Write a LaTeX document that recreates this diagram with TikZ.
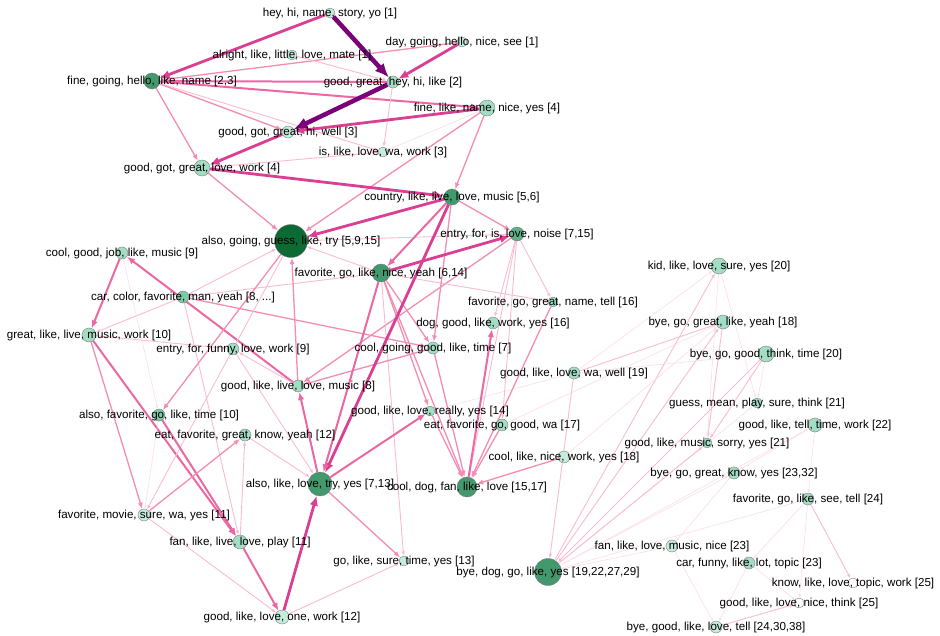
\documentclass[tikz,border=0pt]{standalone}
\usepackage{fontspec}
\setmainfont{Liberation Sans}
\usetikzlibrary{arrows.meta}
\pgfdeclarelayer{background}
\pgfsetlayers{background,main}
\definecolor{cpale}{HTML}{C6ECDB}
\definecolor{cmint}{HTML}{A3DEC4}
\definecolor{cmint2}{HTML}{7CCBA6}
\definecolor{cmedl}{HTML}{5DB088}
\definecolor{cmed}{HTML}{42996E}
\definecolor{cdark}{HTML}{0C6A35}
\definecolor{ew1}{HTML}{FCDDE6}
\definecolor{ew2}{HTML}{F9BCD1}
\definecolor{ew3}{HTML}{F38DB4}
\definecolor{ew4}{HTML}{EC68A2}
\definecolor{ew5}{HTML}{DA3F93}
\definecolor{ew6}{HTML}{7A0177}
\tikzset{
  nd/.style={circle,draw=black!55,line width=0.35pt,inner sep=0pt},
  lbl/.style={inner sep=0pt,font=\fontsize{11.6}{13}\selectfont,text=black},
  w1/.style={draw=ew1,line width=0.6pt,-{Latex[length=3.5pt,width=2.5pt]}},
  w2/.style={draw=ew2,line width=0.9pt,-{Latex[length=4.5pt,width=3.5pt]}},
  w3/.style={draw=ew3,line width=1.3pt,-{Latex[length=6.5pt,width=5pt]}},
  w4/.style={draw=ew4,line width=2pt,-{Latex[length=8pt,width=6.5pt]}},
  w5/.style={draw=ew5,line width=2.8pt,-{Latex[length=10pt,width=8.5pt]}},
  w6/.style={draw=ew6,line width=4.5pt,-{Latex[length=14pt,width=12pt]}}
}
\begin{document}
\begin{tikzpicture}[x=1pt,y=-1pt]
\useasboundingbox (0,0) rectangle (940,635);
% circles
\node[nd,fill=cpale,minimum size=10pt] (n1) at (330,13) {};
\node[nd,fill=cpale,minimum size=10pt] (day) at (462,42) {};
\node[nd,fill=cpale,minimum size=10pt] (alr) at (292,55) {};
\node[nd,fill=cmed,minimum size=16pt] (fine) at (152,81) {};
\node[nd,fill=cmint,minimum size=12pt] (gg) at (393,82) {};
\node[nd,fill=cmint,minimum size=16pt] (fl) at (487,108) {};
\node[nd,fill=cpale,minimum size=12pt] (gg3) at (288,132) {};
\node[nd,fill=cpale,minimum size=10pt] (isl) at (383,152) {};
\node[nd,fill=cmint,minimum size=16pt] (gg4) at (202,168) {};
\node[nd,fill=cmed,minimum size=16pt] (ctry) at (452,197) {};
\node[nd,fill=cdark,minimum size=33pt] (also) at (291,241) {};
\node[nd,fill=cmedl,minimum size=14pt] (ent715) at (517,234) {};
\node[nd,fill=cmed,minimum size=18pt] (fav614) at (381,273) {};
\node[nd,fill=cmint,minimum size=12pt] (cool9) at (122,253) {};
\node[nd,fill=cmint2,minimum size=12pt] (car) at (183,297) {};
\node[nd,fill=cmint,minimum size=10pt] (fav16) at (553,302) {};
\node[nd,fill=cmint,minimum size=12pt] (dog16) at (493,323) {};
\node[nd,fill=cmint,minimum size=14pt] (gr10) at (89,335) {};
\node[nd,fill=cmint,minimum size=12pt] (ent9) at (233,349) {};
\node[nd,fill=cmint,minimum size=12pt] (cool7) at (433,348) {};
\node[nd,fill=cmint,minimum size=12pt] (good8) at (298,386) {};
\node[nd,fill=cmint,minimum size=12pt] (good19) at (574,373) {};
\node[nd,fill=cmint2,minimum size=12pt] (also10) at (159,415) {};
\node[nd,fill=cmint,minimum size=10pt] (good14) at (430,411) {};
\node[nd,fill=cmint,minimum size=12pt] (eat12) at (245,435) {};
\node[nd,fill=cmint,minimum size=12pt] (eat17) at (502,425) {};
\node[nd,fill=cmed,minimum size=24pt] (a713) at (320,484) {};
\node[nd,fill=cpale,minimum size=12pt] (cool18) at (564,457) {};
\node[nd,fill=cmed,minimum size=20pt] (cdog) at (467,487) {};
\node[nd,fill=cpale,minimum size=12pt] (fav11) at (144,515) {};
\node[nd,fill=cmint,minimum size=14pt] (fan11) at (240,542) {};
\node[nd,fill=cpale,minimum size=10pt] (go13) at (404,561) {};
\node[nd,fill=cpale,minimum size=14pt] (good12) at (282,617) {};
\node[nd,fill=cmed,minimum size=27pt] (bye19) at (548,572) {};
\node[nd,fill=cmint,minimum size=16pt] (kid) at (719,266) {};
\node[nd,fill=cmint,minimum size=14pt] (bye18) at (723,322) {};
\node[nd,fill=cmint,minimum size=16pt] (bye20) at (766,354) {};
\node[nd,fill=cmint,minimum size=10pt] (guess) at (757,403) {};
\node[nd,fill=cmint,minimum size=14pt] (good22) at (815,425) {};
\node[nd,fill=cmint,minimum size=10pt] (good21) at (707,443) {};
\node[nd,fill=cmint,minimum size=12pt] (bye23) at (734,473) {};
\node[nd,fill=cmint,minimum size=12pt] (fav24) at (808,499) {};
\node[nd,fill=cpale,minimum size=12pt] (fan23) at (672,546) {};
\node[nd,fill=cmint,minimum size=12pt] (car23) at (749,563) {};
\node[nd,fill=white,minimum size=10pt] (know) at (853,583) {};
\node[nd,fill=white,minimum size=10pt] (good25) at (799,603) {};
\node[nd,fill=cpale,minimum size=12pt] (bye24) at (716,627) {};
% edges
\begin{pgfonlayer}{background}
\fill[white] (0,0) rectangle (940,635);
% right cluster (thin)
\draw[w1] (bye19) -- (good22);
\draw[w1] (bye19) -- (bye23);
\draw[w1] (bye19) -- (fan23);
\draw[w1] (bye19) -- (guess);
\draw[w1] (bye19) -- (fav24);
\draw[w2] (bye19) -- (kid);
\draw[w2] (bye19) -- (bye18);
\draw[w2] (bye20) -- (bye19);
\draw[w2] (bye19) -- (good21);
\draw[w2] (good19) -- (bye18);
\draw[w1] (good19) -- (kid);
\draw[w1] (good19) -- (bye20);
\draw[w2] (bye18) -- (good21);
\draw[w1] (kid) -- (good21);
\draw[w1] (kid) -- (guess);
\draw[w2] (bye20) -- (good21);
\draw[w1] (bye20) -- (guess);
\draw[w1] (good22) -- (bye23);
\draw[w1] (good22) -- (fav24);
\draw[w2] (fav24) -- (know);
\draw[w1] (fav24) -- (good25);
\draw[w1] (fav24) -- (car23);
\draw[w2] (bye24) -- (good25);
\draw[w1] (fan23) -- (bye24);
\draw[w1] (car23) -- (bye24);
\draw[w1] (car23) -- (good25);
\draw[w1] (bye23) -- (fan23);
\draw[w1] (cool18) -- (bye18);
\draw[w1] (eat17) -- (bye18);
\draw[w2] (good19) -- (bye19);
\draw[w1] (good19) -- (good14);
% middle
\draw[w2] (ent715) -- (also);
\draw[w2] (fav614) -- (also);
\draw[w2] (ent715) -- (fav16);
\draw[w2] (ent715) -- (dog16);
\draw[w2] (ent715) -- (eat17);
\draw[w2] (ent715) -- (cdog);
\draw[w3] (ent715) -- (good8);
\draw[w3] (fav614) -- (cool7);
\draw[w3] (fav614) -- (good14);
\draw[w3] (fav614) -- (cdog);
\draw[w2] (fav614) -- (car);
\draw[w2] (fav614) -- (fav16);
\draw[w2] (fav614) -- (go13);
\draw[w3] (fav16) -- (cdog);
\draw[w4] (cdog) -- (dog16);
\draw[w3] (cool18) -- (cdog);
\draw[w3] (eat17) -- (cdog);
\draw[w3] (good14) -- (cdog);
\draw[w3] (cool7) -- (cdog);
\draw[w3] (cool7) -- (good8);
\draw[w2] (car) -- (also);
\draw[w2] (car) -- (gr10);
\draw[w3] (car) -- (cool7);
\draw[w2] (car) -- (fan11);
\draw[w4] (good8) -- (cool9);
\draw[w4] (cool9) -- (gr10);
\draw[w1] (cool9) -- (also10);
\draw[w2] (gr10) -- (ent9);
\draw[w4] (gr10) -- (fan11);
\draw[w3] (gr10) -- (fav11);
\draw[w3] (also) -- (also10);
\draw[w2] (also) -- (fav11);
\draw[w3] (good8) -- (also);
\draw[w2] (good8) -- (ent9);
\draw[w4] (also10) -- (fan11);
\draw[w1] (also10) -- (fav11);
\draw[w3] (fav11) -- (eat12);
\draw[w2] (fav11) -- (good12);
\draw[w2] (fan11) -- (eat12);
\draw[w4] (fan11) -- (good12);
\draw[w5] (good12) -- (a713);
\draw[w2] (good12) -- (go13);
\draw[w3] (a713) -- (go13);
\draw[w4] (a713) -- (good8);
\draw[w4] (a713) -- (good14);
\draw[w2] (eat12) -- (a713);
\draw[w2] (ent9) -- (a713);
% top
\draw[w3] (day) -- (fine);
\draw[w2] (alr) -- (gg);
\draw[w4] (gg) -- (fine);
\draw[w4] (fine) -- (fl);
\draw[w3] (fine) -- (gg3);
\draw[w2] (fine) -- (isl);
\draw[w3] (fine) -- (gg4);
\draw[w2] (gg) -- (isl);
\draw[w5] (fl) -- (gg3);
\draw[w1] (fl) -- (isl);
\draw[w3] (fl) -- (ctry);
\draw[w3] (fl) -- (also);
\draw[w5] (gg3) -- (gg4);
\draw[w2] (isl) -- (gg4);
\draw[w5] (gg4) -- (ctry);
\draw[w3] (gg4) -- (also);
\draw[w5] (ctry) -- (also);
\draw[w4] (ctry) -- (fav614);
\draw[w3] (ctry) -- (ent715);
\draw[w3] (ctry) -- (cool7);
\draw[w5] (ctry) -- (a713);
\draw[w4] (fav614) -- (a713);
\draw[w5] (fav614) -- (ent715);
\draw[w5] (n1) -- (fine);
\draw[w5] (day) -- (gg);
\draw[w6] (n1) -- (gg);
\draw[w6] (gg) -- (gg3);
\end{pgfonlayer}
% labels
\node[lbl] (l-n1) at (n1) {hey, hi, name, story, yo [1]};
\node[lbl] (l-day) at (day) {day, going, hello, nice, see [1]};
\node[lbl] (l-alr) at (alr) {alright, like, little, love, mate [1]};
\node[lbl] (l-fine) at (fine) {fine, going, hello, like, name [2,3]};
\node[lbl] (l-gg) at (gg) {good, great, hey, hi, like [2]};
\node[lbl] (l-fl) at (fl) {fine, like, name, nice, yes [4]};
\node[lbl] (l-gg3) at (gg3) {good, got, great, hi, well [3]};
\node[lbl] (l-isl) at (isl) {is, like, love, wa, work [3]};
\node[lbl] (l-gg4) at (gg4) {good, got, great, love, work [4]};
\node[lbl] (l-ctry) at (ctry) {country, like, live, love, music [5,6]};
\node[lbl] (l-also) at (also) {also, going, guess, like, try [5,9,15]};
\node[lbl] (l-ent715) at (ent715) {entry, for, is, love, noise [7,15]};
\node[lbl] (l-fav614) at (fav614) {favorite, go, like, nice, yeah [6,14]};
\node[lbl] (l-cool9) at (cool9) {cool, good, job, like, music [9]};
\node[lbl] (l-car) at (car) {car, color, favorite, man, yeah [8, ...]};
\node[lbl] (l-fav16) at (fav16) {favorite, go, great, name, tell [16]};
\node[lbl] (l-dog16) at (dog16) {dog, good, like, work, yes [16]};
\node[lbl] (l-gr10) at (gr10) {great, like, live, music, work [10]};
\node[lbl] (l-ent9) at (ent9) {entry, for, funny, love, work [9]};
\node[lbl] (l-cool7) at (cool7) {cool, going, good, like, time [7]};
\node[lbl] (l-good8) at (good8) {good, like, live, love, music [8]};
\node[lbl] (l-good19) at (good19) {good, like, love, wa, well [19]};
\node[lbl] (l-also10) at (also10) {also, favorite, go, like, time [10]};
\node[lbl] (l-good14) at (good14) {good, like, love, really, yes [14]};
\node[lbl] (l-eat12) at (eat12) {eat, favorite, great, know, yeah [12]};
\node[lbl] (l-eat17) at (eat17) {eat, favorite, go, good, wa [17]};
\node[lbl] (l-a713) at (a713) {also, like, love, try, yes [7,13]};
\node[lbl] (l-cool18) at (cool18) {cool, like, nice, work, yes [18]};
\node[lbl] (l-cdog) at (cdog) {cool, dog, fan, like, love [15,17]};
\node[lbl] (l-fav11) at (fav11) {favorite, movie, sure, wa, yes [11]};
\node[lbl] (l-fan11) at (fan11) {fan, like, live, love, play [11]};
\node[lbl] (l-go13) at (go13) {go, like, sure, time, yes [13]};
\node[lbl] (l-good12) at (good12) {good, like, love, one, work [12]};
\node[lbl] (l-bye19) at (bye19) {bye, dog, go, like, yes [19,22,27,29]};
\node[lbl] (l-kid) at (kid) {kid, like, love, sure, yes [20]};
\node[lbl] (l-bye18) at (bye18) {bye, go, great, like, yeah [18]};
\node[lbl] (l-bye20) at (bye20) {bye, go, good, think, time [20]};
\node[lbl] (l-guess) at (guess) {guess, mean, play, sure, think [21]};
\node[lbl] (l-good22) at (good22) {good, like, tell, time, work [22]};
\node[lbl] (l-good21) at (good21) {good, like, music, sorry, yes [21]};
\node[lbl] (l-bye23) at (bye23) {bye, go, great, know, yes [23,32]};
\node[lbl] (l-fav24) at (fav24) {favorite, go, like, see, tell [24]};
\node[lbl] (l-fan23) at (fan23) {fan, like, love, music, nice [23]};
\node[lbl] (l-car23) at (car23) {car, funny, like, lot, topic [23]};
\node[lbl] (l-know) at (know) {know, like, love, topic, work [25]};
\node[lbl] (l-good25) at (good25) {good, like, love, nice, think [25]};
\node[lbl] (l-bye24) at (bye24) {bye, good, like, love, tell [24,30,38]};
\end{tikzpicture}
\end{document}
